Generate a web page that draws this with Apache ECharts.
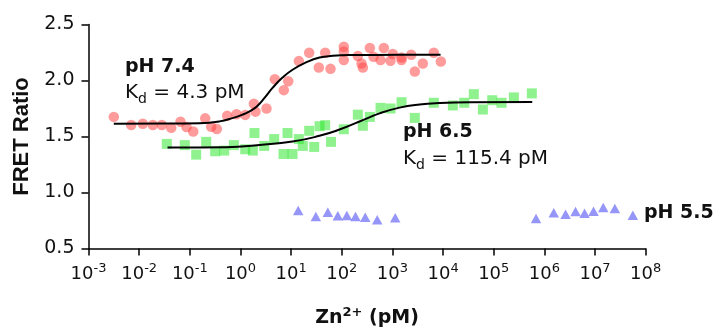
<!DOCTYPE html>
<html>
<head>
<meta charset="utf-8">
<script src="https://cdn.jsdelivr.net/npm/echarts@6/dist/echarts.min.js"></script>
<style>
  html, body { margin: 0; padding: 0; background: #fff; }
  #chart { width: 717px; height: 333px; }
</style>
</head>
<body>
<div id="chart"></div>
<script>
// x values are log10 of [Zn2+] in pM
const xTicks = [-3, -2, -1, 0, 1, 2, 3, 4, 5, 6, 7, 8];
const yTicks = [0.5, 1.0, 1.5, 2.0, 2.5];

// pH 7.4 (red circles)
const ph74LogConc = [-2.50, -2.157, -1.928, -1.730, -1.553, -1.367, -1.184, -1.065, -0.933, -0.696, -0.578, -0.467,
  -0.262, -0.078, 0.094, 0.264, 0.297, 0.514, 0.678, 0.856, 0.943, 1.152, 1.357, 1.547, 1.673, 1.778, 2.04, 2.04, 2.04,
  2.317, 2.39, 2.416, 2.554, 2.627, 2.765, 2.83, 2.962, 3.008, 3.18, 3.18, 3.371, 3.442, 3.60, 3.817, 3.956];
const ph74Ratio = [1.675, 1.603, 1.614, 1.603, 1.603, 1.578, 1.632, 1.585, 1.545, 1.662, 1.587, 1.567,
  1.686, 1.698, 1.693, 1.792, 1.722, 1.75, 2.011, 1.914, 1.993, 2.173, 2.248, 2.116, 2.248, 2.104, 2.302, 2.26, 2.182,
  2.218, 2.152, 2.116, 2.29, 2.212, 2.182, 2.29, 2.176, 2.236, 2.206, 2.182, 2.23, 2.08, 2.152, 2.248, 2.17];
const ph74FitLogConc = [-2.50, -1.5, -0.81, -0.414, -0.157, 0.04, 0.179, 0.317, 0.475, 0.633, 0.83, 1.028, 1.304, 1.561, 1.817, 2.153, 3.14, 3.95];
const ph74FitRatio = [1.614, 1.615, 1.619, 1.635, 1.664, 1.695, 1.725, 1.766, 1.845, 1.934, 2.026, 2.096, 2.164, 2.205, 2.22, 2.227, 2.229, 2.229];

// pH 6.5 (green squares)
const ph65LogConc = [-1.454, -1.099, -0.874, -0.676, -0.499, -0.321, -0.131, 0.094, 0.244, 0.277, 0.469, 0.666, 0.85,
  0.929, 1.028, 1.152, 1.231, 1.357, 1.456, 1.561, 1.673, 1.788, 2.04, 2.317, 2.416, 2.554, 2.765, 2.962, 3.18, 3.442,
  3.817, 4.193, 4.418, 4.607, 4.785, 4.970, 5.154, 5.397, 5.752];
const ph65Ratio = [1.434, 1.423, 1.338, 1.452, 1.368, 1.374, 1.423, 1.386, 1.374, 1.531, 1.416, 1.477, 1.344,
  1.531, 1.344, 1.477, 1.416, 1.551, 1.407, 1.592, 1.601, 1.452, 1.565, 1.695, 1.596, 1.675, 1.756, 1.75, 1.806, 1.666,
  1.801, 1.777, 1.801, 1.878, 1.741, 1.824, 1.801, 1.849, 1.885];
const ph65FitLogConc = [-1.44, -0.275, 0.376, 1.027, 1.56, 1.955, 2.35, 2.745, 3.14, 3.535, 3.93, 4.52, 5.76];
const ph65FitRatio = [1.401, 1.405, 1.425, 1.455, 1.506, 1.562, 1.634, 1.706, 1.758, 1.786, 1.799, 1.806, 1.808];

// pH 5.5 (blue triangles)
const ph55LogConc = [1.14, 1.488, 1.725, 1.922, 2.1, 2.271, 2.463, 2.7, 3.055, 5.835, 6.185, 6.418, 6.615, 6.793, 6.970, 7.162, 7.391, 7.746];
const ph55Ratio = [0.84, 0.786, 0.824, 0.792, 0.795, 0.786, 0.779, 0.756, 0.774, 0.768, 0.82, 0.806, 0.831, 0.815, 0.833, 0.867, 0.858, 0.797];

const pairs = (xs, ys) => xs.map((x, i) => [x, ys[i]]);

const chart = echarts.init(document.getElementById('chart'));
const txt = '#111';

chart.setOption({
  animation: false,
  grid: { left: 88.5, right: 71.3, top: 24.5, bottom: 84.5 },
  xAxis: {
    type: 'value',
    min: xTicks[0],
    max: xTicks[xTicks.length - 1],
    interval: 1,
    name: 'Zn{sup|2+} (pM)',
    nameLocation: 'middle',
    nameGap: 58,
    nameTextStyle: {
      fontFamily: 'DejaVu Sans', fontWeight: 'bold', fontSize: 19, color: txt,
      rich: {
        sup: { fontFamily: 'DejaVu Sans', fontWeight: 'bold', fontSize: 13, color: txt, padding: [0, 0, 10, 0] }
      }
    },
    axisLine: { onZero: false, lineStyle: { color: '#000', width: 1.5 } },
    axisTick: { length: 7, lineStyle: { color: '#000', width: 1.5 } },
    splitLine: { show: false },
    axisLabel: {
      margin: 14,
      fontFamily: 'DejaVu Sans', fontSize: 18, color: txt,
      formatter: v => '10{sup|' + v + '}',
      rich: {
        sup: { fontFamily: 'DejaVu Sans', fontSize: 13, color: txt, padding: [0, 0, 10, 0] }
      }
    }
  },
  yAxis: {
    type: 'value',
    min: yTicks[0],
    max: yTicks[yTicks.length - 1],
    interval: 0.5,
    name: 'FRET Ratio',
    nameLocation: 'middle',
    nameGap: 52,
    nameTextStyle: { fontFamily: 'Liberation Sans', fontWeight: 'bold', fontSize: 22, color: txt },
    axisLine: { show: true, onZero: false, lineStyle: { color: '#000', width: 1.5 } },
    axisTick: { show: true, length: 7, lineStyle: { color: '#000', width: 1.5 } },
    splitLine: { show: false },
    axisLabel: {
      margin: 14,
      fontFamily: 'DejaVu Sans', fontSize: 19, color: txt,
      formatter: v => v.toFixed(1)
    }
  },
  series: [
    {
      type: 'scatter', name: 'pH 7.4', data: pairs(ph74LogConc, ph74Ratio),
      symbol: 'circle', symbolSize: 10.5,
      itemStyle: { color: 'rgba(255,70,70,0.68)' }, z: 2
    },
    {
      type: 'scatter', name: 'pH 6.5', data: pairs(ph65LogConc, ph65Ratio),
      symbol: 'rect', symbolSize: 10,
      itemStyle: { color: 'rgba(40,230,40,0.65)' }, z: 2
    },
    {
      type: 'scatter', name: 'pH 5.5', data: pairs(ph55LogConc, ph55Ratio),
      symbol: 'triangle', symbolSize: [10.5, 9.5],
      itemStyle: { color: 'rgba(110,110,245,0.9)' }, z: 2
    },
    {
      type: 'line', data: pairs(ph74FitLogConc, ph74FitRatio),
      smooth: 0.5, showSymbol: false,
      lineStyle: { color: '#000', width: 2 }, z: 3
    },
    {
      type: 'line', data: pairs(ph65FitLogConc, ph65FitRatio),
      smooth: 0.5, showSymbol: false,
      lineStyle: { color: '#000', width: 2 }, z: 3
    }
  ],
  graphic: [
    { type: 'text', left: 125, top: 58, style: { text: 'pH 7.4', font: 'bold 19px "DejaVu Sans"', fill: txt } },
    {
      type: 'text', left: 125, top: 83,
      style: {
        text: 'K{sub|d} = 4.3 pM', font: '20px "DejaVu Sans"', fill: txt,
        rich: { sub: { fontFamily: 'DejaVu Sans', fontSize: 14, fill: txt, padding: [12, 0, 0, 0] } }
      }
    },
    { type: 'text', left: 403, top: 123, style: { text: 'pH 6.5', font: 'bold 19px "DejaVu Sans"', fill: txt } },
    {
      type: 'text', left: 403, top: 149,
      style: {
        text: 'K{sub|d} = 115.4 pM', font: '20px "DejaVu Sans"', fill: txt,
        rich: { sub: { fontFamily: 'DejaVu Sans', fontSize: 14, fill: txt, padding: [12, 0, 0, 0] } }
      }
    },
    { type: 'text', left: 644, top: 204, style: { text: 'pH 5.5', font: 'bold 19px "DejaVu Sans"', fill: txt } }
  ]
});
</script>
</body>
</html>
